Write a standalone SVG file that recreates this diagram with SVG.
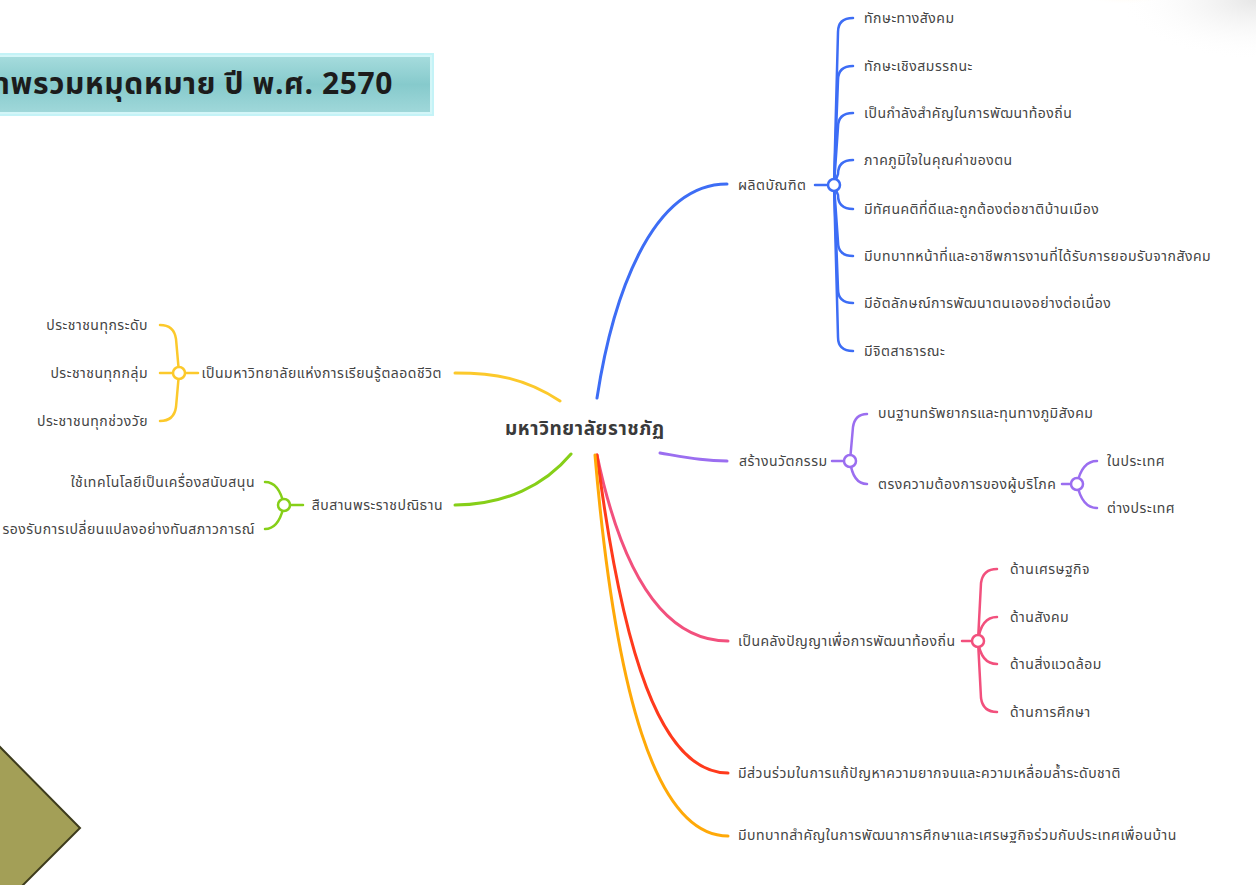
<svg xmlns="http://www.w3.org/2000/svg" width="1256" height="885" viewBox="0 0 1256 885">
<defs>
<style>
.t{font-family:"Noto Sans Thai","Tahoma","Noto Sans","DejaVu Sans",sans-serif;font-size:14px;letter-spacing:0.5px;fill:#444}
.c{fill:none;stroke-width:3;stroke-linecap:round}
.b{fill:none;stroke-width:2.5;stroke-linecap:round}
.dot{fill:#fff;stroke-width:2.5}
.blue{stroke:#3d6df5}.purple{stroke:#9b6ef0}.yellow{stroke:#fcc92b}.green{stroke:#86cf18}.pink{stroke:#f2507d}.red{stroke:#ff3a1c}.orange{stroke:#ffa908}
</style>
<linearGradient id="tg" x1="0" y1="0" x2="0" y2="1">
<stop offset="0" stop-color="#a6dcdd"/><stop offset="0.5" stop-color="#86cacc"/><stop offset="1" stop-color="#a0d8da"/>
</linearGradient>
<radialGradient id="glow" cx="0.5" cy="0" r="0.6">
<stop offset="0" stop-color="#ffe2b0" stop-opacity="0.9"/><stop offset="1" stop-color="#fff" stop-opacity="0"/>
</radialGradient>
<radialGradient id="gr" cx="1" cy="0" r="1">
<stop offset="0" stop-color="#e6e6e6"/><stop offset="1" stop-color="#fff" stop-opacity="0"/>
</radialGradient>
</defs>
<rect width="1256" height="885" fill="#fff"/>
<rect x="1120" y="0" width="136" height="60" fill="url(#gr)"/>
<ellipse cx="1125" cy="2" rx="45" ry="14" fill="url(#glow)"/>
<g id="title">
<rect x="-6" y="53" width="440" height="63" fill="#c4f3f7"/>
<rect x="-4" y="56" width="435" height="57" fill="url(#tg)" stroke="#d4f6f8" stroke-width="2"/>
<text x="393" y="94" text-anchor="end" style="font-family:'Noto Sans Thai','Tahoma','Noto Sans',sans-serif;font-size:30px;letter-spacing:0.6px;font-weight:bold;fill:#1c1c1c">ภาพรวมหมุดหมาย ปี พ.ศ. 2570</text>
</g>
<g id="arrow">
<polygon points="-3,744 80,828 20,888 -3,888" fill="#a39f57" stroke="#3d3b1c" stroke-width="2"/>
</g>
<g id="connectors">
<path class="c blue" d="M597,398 C612,300 650,184 727,184"/>
<path class="c purple" d="M660,453 C690,458 705,461 727,461"/>
<path class="c yellow" d="M560,401 C525,378 495,373 455,373"/>
<path class="c green" d="M571,454 C545,485 505,505 455,505"/>
<path class="c pink" d="M597,455 C620,565 660,641 728,641"/>
<path class="c red" d="M597,455 C622,650 660,773 728,773"/>
<path class="c orange" d="M595,455 C615,690 655,836 728,836"/>
<path class="b blue" d="M815,185 L828,185"/>
<path class="b blue" d="M834,185 L838,32 Q838,18 853,18"/>
<path class="b blue" d="M834,185 L838,80 Q838,66 853,66"/>
<path class="b blue" d="M834,185 L838,127 Q838,113 853,113"/>
<path class="b blue" d="M834,185 L838,174 Q838,160 853,160"/>
<path class="b blue" d="M834,185 L838,195 Q838,209 853,209"/>
<path class="b blue" d="M834,185 L838,242 Q838,256 853,256"/>
<path class="b blue" d="M834,185 L838,289 Q838,303 853,303"/>
<path class="b blue" d="M834,185 L838,337 Q838,351 853,351"/>
<path class="b purple" d="M832,461 L844,461"/>
<path class="b purple" d="M850,461 L853,427 Q855,414 867,414"/>
<path class="b purple" d="M850,461 Q853,484 867,484"/>
<path class="b purple" d="M1062,484 L1071,484"/>
<path class="b purple" d="M1077,484 Q1082,461 1097,461"/>
<path class="b purple" d="M1077,484 Q1082,508 1097,508"/>
<path class="b yellow" d="M185,373 L198,373"/>
<path class="b yellow" d="M179,373 L176,339 Q174,325 160,325"/>
<path class="b yellow" d="M179,373 L160,373"/>
<path class="b yellow" d="M179,373 L176,407 Q174,421 160,421"/>
<path class="b green" d="M290,505 L303,505"/>
<path class="b green" d="M284,505 Q279,482 265,482"/>
<path class="b green" d="M284,505 Q279,529 265,529"/>
<path class="b pink" d="M962,641 L972,641"/>
<path class="b pink" d="M978,641 L981,583 Q983,569 997,569"/>
<path class="b pink" d="M978,641 Q981,617 997,617"/>
<path class="b pink" d="M978,641 Q981,664 997,664"/>
<path class="b pink" d="M978,641 L981,698 Q983,712 997,712"/>
</g>
<g id="center"><text x="505" y="435" style="font-family:'Noto Sans Thai','Tahoma','Noto Sans',sans-serif;font-size:19px;letter-spacing:0.6px;font-weight:bold;fill:#3a3a3a">มหาวิทยาลัยราชภัฏ</text></g>
<g id="n-grad"><text class="t" x="738" y="190">ผลิตบัณฑิต</text><circle class="dot blue" cx="834" cy="185" r="6"/></g>
<g id="n-g1"><text class="t" x="864" y="23">ทักษะทางสังคม</text></g>
<g id="n-g2"><text class="t" x="864" y="71">ทักษะเชิงสมรรถนะ</text></g>
<g id="n-g3"><text class="t" x="864" y="118">เป็นกำลังสำคัญในการพัฒนาท้องถิ่น</text></g>
<g id="n-g4"><text class="t" x="864" y="165">ภาคภูมิใจในคุณค่าของตน</text></g>
<g id="n-g5"><text class="t" x="864" y="214">มีทัศนคติที่ดีและถูกต้องต่อชาติบ้านเมือง</text></g>
<g id="n-g6"><text class="t" x="864" y="261">มีบทบาทหน้าที่และอาชีพการงานที่ได้รับการยอมรับจากสังคม</text></g>
<g id="n-g7"><text class="t" x="864" y="308">มีอัตลักษณ์การพัฒนาตนเองอย่างต่อเนื่อง</text></g>
<g id="n-g8"><text class="t" x="864" y="356">มีจิตสาธารณะ</text></g>
<g id="n-inno"><text class="t" x="739" y="466">สร้างนวัตกรรม</text><circle class="dot purple" cx="850" cy="461" r="6"/></g>
<g id="n-i1"><text class="t" x="878" y="418">บนฐานทรัพยากรและทุนทางภูมิสังคม</text></g>
<g id="n-i2"><text class="t" x="878" y="489">ตรงความต้องการของผู้บริโภค</text><circle class="dot purple" cx="1077" cy="484" r="6"/></g>
<g id="n-i21"><text class="t" x="1107" y="466">ในประเทศ</text></g>
<g id="n-i22"><text class="t" x="1107" y="513">ต่างประเทศ</text></g>
<g id="n-life"><text class="t" x="442" y="378" text-anchor="end">เป็นมหาวิทยาลัยแห่งการเรียนรู้ตลอดชีวิต</text><circle class="dot yellow" cx="179" cy="373" r="6"/></g>
<g id="n-l1"><text class="t" x="148" y="330" text-anchor="end">ประชาชนทุกระดับ</text></g>
<g id="n-l2"><text class="t" x="148" y="378" text-anchor="end">ประชาชนทุกกลุ่ม</text></g>
<g id="n-l3"><text class="t" x="148" y="426" text-anchor="end">ประชาชนทุกช่วงวัย</text></g>
<g id="n-royal"><text class="t" x="443" y="510" text-anchor="end">สืบสานพระราชปณิธาน</text><circle class="dot green" cx="284" cy="505" r="6"/></g>
<g id="n-r1"><text class="t" x="255" y="487" text-anchor="end">ใช้เทคโนโลยีเป็นเครื่องสนับสนุน</text></g>
<g id="n-r2"><text class="t" x="255" y="534" text-anchor="end">รองรับการเปลี่ยนแปลงอย่างทันสภาวการณ์</text></g>
<g id="n-wis"><text class="t" x="738" y="646">เป็นคลังปัญญาเพื่อการพัฒนาท้องถิ่น</text><circle class="dot pink" cx="978" cy="641" r="6"/></g>
<g id="n-w1"><text class="t" x="1010" y="574">ด้านเศรษฐกิจ</text></g>
<g id="n-w2"><text class="t" x="1010" y="622">ด้านสังคม</text></g>
<g id="n-w3"><text class="t" x="1010" y="669">ด้านสิ่งแวดล้อม</text></g>
<g id="n-w4"><text class="t" x="1010" y="717">ด้านการศึกษา</text></g>
<g id="n-pov"><text class="t" x="738" y="778">มีส่วนร่วมในการแก้ปัญหาความยากจนและความเหลื่อมล้ำระดับชาติ</text></g>
<g id="n-asean"><text class="t" x="738" y="840">มีบทบาทสำคัญในการพัฒนาการศึกษาและเศรษฐกิจร่วมกับประเทศเพื่อนบ้าน</text></g>
</svg>
